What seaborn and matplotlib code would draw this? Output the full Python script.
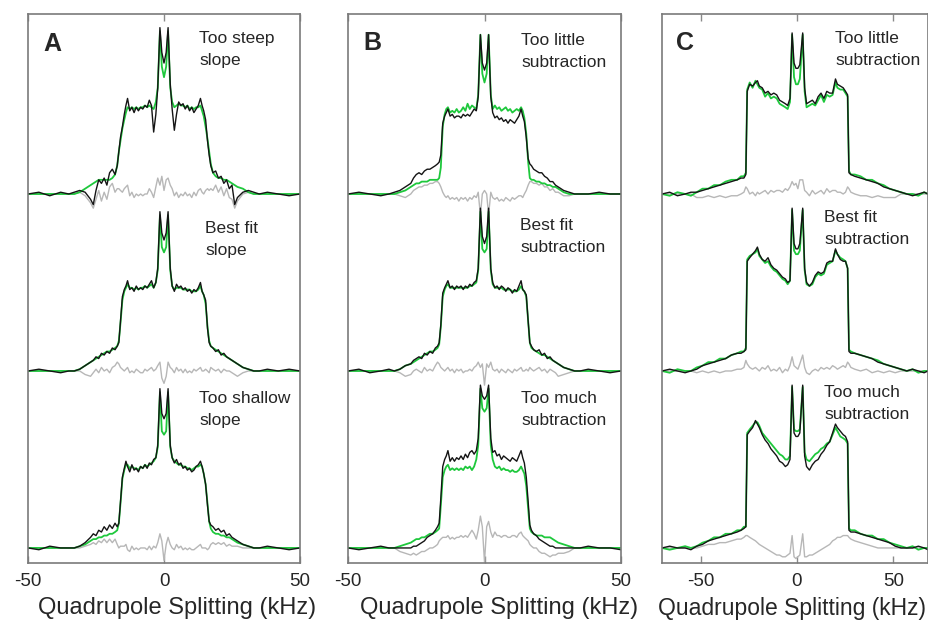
import numpy as np
import matplotlib
matplotlib.use('Agg')
import matplotlib.pyplot as plt
import seaborn as sns

# kHz grids (panels A and B share one, C is wider)
x_ab = [-50, -46, -42, -38, -35,
        -33, -31, -29, -27, -26, -25, -24, -23, -22, -21, -20, -19, -18, -17.2,
        -16.6, -16, -15.3, -14.6, -14, -13.4, -12.6, -11.8, -11, -10.2, -9.4, -8.6, -7.8, -7, -6.2, -5.4, -4.6, -3.8, -3,
        -2.3, -1.5, -0.8, 0, 0.8, 1.5, 2.3,
        3, 3.8, 4.6, 5.4, 6.2, 7, 7.8, 8.6, 9.4, 10.2, 11, 11.8, 12.6, 13.4, 14, 14.6, 15.3, 16, 16.6,
        17.2, 18, 19, 20, 21, 22, 23, 24, 25, 26, 27, 29, 31, 33,
        35, 38, 42, 46, 50]

x_c = [-70, -66, -62, -58, -55,
       -52, -49, -46, -43, -40, -37, -34, -31, -29, -27.5, -26.5,
       -25.8, -24.5, -23, -21.5, -20.5, -19.5, -18, -16.5, -15, -13.5, -12, -10.5, -9, -7.5, -6, -4.8, -3.6,
       -2.5, -1.5, -0.5, 0.5, 1.5, 3, 4,
       5, 6.5, 8, 9.5, 11, 12.5, 14, 15.5, 17, 18.5, 20, 21, 22.5, 24, 25.2, 26.3,
       27, 28, 30, 33, 36, 39, 42, 45, 48, 51, 54,
       57, 60, 63, 66, 68]

# ---- panel A: slope ----
a_steep_black = [0, 1, -1, 1, 0,
                 1, 2, 1, -3, -6, 2, 8, 6, 9, 5, 12, 14, 11, 16,
                 24, 32, 38, 45, 50, 54, 47, 49, 46, 49, 47, 49, 48, 50, 49, 53, 50, 35, 45,
                 60, 94, 80, 74, 80, 94, 62,
                 48, 36, 45, 52, 50, 51, 48, 50, 47, 49, 46, 48, 50, 54, 50, 47, 42, 30, 22,
                 16, 12, 13, 9, 10, 6, 8, 3, 5, -6, -2, 1, 2, 1,
                 0, 1, 0, -1, 0]
a_steep_green = [0, 0, 0, 0, 0,
                 0, 1, 3, 5, 6, 7, 8, 8, 8, 8, 8, 9, 11, 16,
                 24, 30, 37, 42, 46, 49, 48, 49, 48, 49, 48, 49, 49, 50, 49, 50, 49, 48, 52,
                 60, 92, 72, 66, 72, 92, 60,
                 52, 49, 50, 51, 50, 50, 49, 50, 48, 49, 48, 49, 49, 50, 47, 44, 38, 31, 24,
                 17, 12, 10, 9, 9, 8, 8, 7, 6, 5, 4, 3, 1, 0,
                 0, 0, 0, 0, 0]
a_steep_gray = [0, 0, 0, 0, 0,
                0, 1, -1, -5, -8, -3, 2, -4, 1, -3, 4, 6, 1, 3,
                3, 2, 1, 3, 4, 5, -1, 1, -2, 0, -1, 0, -1, 0, 0, 3, 1, -2, 4,
                9, 5, 10, 2, 8, 9, 5,
                3, -1, 1, -2, 0, -1, 1, -1, 0, -2, 1, -1, 2, 3, 1, 0, 2, 3, 2,
                3, 2, 5, 1, 4, -1, 3, -2, -3, -8, -4, 0, 1, 0,
                0, 0, 0, 0, 0]

a_best_black = [0, 1, 0, -1, 0,
                0, 1, 3, 5, 6, 8, 7, 10, 9, 11, 10, 13, 12, 14,
                16, 28, 42, 46, 48, 51, 46, 47, 45, 48, 46, 47, 46, 48, 47, 49, 51, 47, 50,
                58, 90, 78, 74, 78, 90, 58,
                48, 45, 49, 47, 48, 46, 47, 45, 46, 44, 46, 45, 47, 50, 45, 43, 40, 24, 16,
                14, 13, 11, 12, 9, 10, 8, 7, 6, 5, 4, 2, 1, 0,
                0, 1, 0, 1, 0]
a_best_green = [0, 0, 0, 0, 0,
                0, 1, 3, 5, 6, 7, 8, 9, 10, 11, 11, 12, 13, 14,
                17, 27, 40, 45, 47, 49, 47, 47, 46, 47, 46, 47, 47, 48, 47, 48, 49, 47, 50,
                57, 88, 70, 67, 70, 88, 57,
                48, 46, 47, 47, 47, 46, 46, 46, 46, 45, 45, 45, 46, 48, 45, 43, 38, 25, 17,
                14, 13, 12, 11, 10, 9, 8, 7, 6, 5, 4, 2, 1, 0,
                0, 0, 0, 0, 0]
a_best_gray = [0, 0, 0, 0, 0,
               0, 0, -2, -3, -1, 1, -1, 2, 0, 1, -1, 2, 3, 5,
               4, 2, 1, 0, 1, 2, -1, 0, -1, 1, 0, -1, -1, 1, 0, 1, 2, 0, 1,
               3, 5, -4, -7, -3, 5, 2,
               1, -1, 2, 0, 1, -1, 1, -1, 0, -1, 1, 0, 1, 2, 0, 0, 1, 0, -1,
               2, 1, 0, 1, -1, 1, 0, 0, -1, -2, -3, -1, 0, 0,
               0, 0, 0, 0, 0]

a_shallow_black = [0, -1, 1, 0, 0,
                   0, 1, 3, 6, 8, 7, 10, 9, 12, 10, 13, 11, 14, 12,
                   14, 26, 40, 45, 49, 46, 43, 47, 44, 45, 43, 46, 45, 47, 45, 48, 47, 50, 51,
                   58, 90, 76, 73, 76, 90, 58,
                   51, 48, 50, 47, 48, 45, 46, 44, 45, 43, 44, 46, 47, 49, 46, 42, 36, 24, 15,
                   13, 12, 10, 11, 9, 10, 7, 8, 6, 5, 4, 2, 1, 0,
                   0, 1, 0, -1, 0]
a_shallow_green = [0, 0, 0, 0, 0,
                   0, 1, 2, 4, 5, 5, 6, 6, 7, 7, 8, 8, 9, 10,
                   14, 25, 39, 44, 47, 47, 45, 46, 45, 45, 44, 46, 45, 47, 46, 47, 48, 49, 51,
                   57, 88, 66, 64, 66, 88, 57,
                   51, 49, 48, 47, 47, 46, 46, 45, 45, 44, 45, 46, 46, 47, 46, 42, 36, 25, 15,
                   11, 9, 8, 8, 7, 7, 6, 6, 5, 4, 3, 2, 1, 0,
                   0, 0, 0, 0, 0]
a_shallow_gray = [0, 0, 0, 0, 0,
                  0, 0, 1, 2, 3, 2, 4, 3, 5, 3, 5, 3, 5, 2,
                  0, 1, 1, 1, 2, -1, -2, 1, -1, 0, -1, 0, 0, 0, -1, 1, -1, 1, 0,
                  3, 8, 4, -7, 2, 6, 2,
                  0, -1, 2, 0, 1, -1, 0, -1, 0, -1, -1, 0, 1, 2, 0, 0, 0, -1, 0,
                  2, 3, 2, 3, 2, 3, 1, 2, 1, 1, 1, 0, 0, 0,
                  0, 0, 0, 0, 0]

# ---- panel B: subtraction ----
b_little_black = [0, 1, 0, -1, 0,
                  1, 2, 4, 6, 9, 11, 12, 11, 13, 14, 14, 15, 16, 17,
                  18, 22, 40, 44, 46, 48, 44, 45, 43, 44, 44, 43, 45, 44, 45, 44, 46, 48, 47,
                  55, 90, 74, 70, 74, 90, 55,
                  46, 43, 44, 42, 43, 41, 42, 40, 42, 41, 40, 42, 44, 48, 44, 41, 32, 20, 17,
                  16, 14, 13, 12, 12, 10, 9, 7, 7, 5, 4, 2, 1, 0,
                  0, 0, 1, 0, 0]
b_little_green = [0, 0, 0, 0, 0,
                  0, 1, 2, 4, 5, 6, 6, 7, 7, 7, 8, 8, 8, 8,
                  9, 15, 38, 45, 48, 49, 46, 47, 46, 48, 46, 47, 49, 47, 51, 48, 50, 49, 48,
                  56, 90, 68, 63, 68, 90, 56,
                  48, 50, 48, 49, 47, 48, 49, 47, 48, 46, 47, 48, 47, 49, 47, 43, 34, 18, 9,
                  8, 8, 7, 7, 6, 6, 5, 5, 4, 4, 3, 1, 0, 0,
                  0, 0, 0, 0, 0]
b_little_gray = [0, 0, 0, 0, 0,
                 0, -1, -2, 0, 2, 3, 4, 4, 5, 5, 6, 6, 7, 7,
                 6, 4, 1, -1, -2, -1, -3, -2, -3, -2, -4, -2, -3, -2, -4, -2, -3, -1, -2,
                 1, -12, 0, 2, 0, -12, 1,
                 -2, -3, -2, -4, -3, -4, -2, -3, -4, -2, -3, -2, -1, -1, -2, 0, 2, 5, 7,
                 7, 6, 6, 5, 6, 4, 4, 2, 3, 1, 1, -1, -1, 0,
                 0, 0, 0, 0, 0]

b_best_black = [0, 1, -1, 0, 1,
                0, 1, 3, 4, 6, 7, 8, 7, 10, 9, 11, 10, 13, 14,
                16, 26, 44, 47, 49, 51, 47, 48, 46, 48, 47, 48, 46, 48, 47, 49, 48, 50, 51,
                58, 92, 76, 72, 76, 92, 58,
                50, 47, 48, 46, 48, 47, 45, 47, 46, 44, 46, 45, 48, 51, 46, 45, 43, 28, 16,
                14, 12, 11, 12, 9, 10, 7, 8, 6, 5, 4, 2, 1, 0,
                0, 1, 0, -1, 0]
b_best_green = [0, 0, 0, 0, 0,
                0, 1, 3, 4, 5, 6, 7, 8, 9, 10, 11, 11, 12, 13,
                15, 25, 42, 46, 48, 49, 47, 47, 47, 47, 47, 47, 47, 47, 47, 48, 48, 49, 50,
                57, 90, 69, 67, 69, 90, 57,
                49, 47, 47, 47, 47, 46, 46, 46, 46, 45, 45, 45, 46, 48, 46, 45, 42, 28, 16,
                13, 12, 11, 10, 9, 9, 8, 7, 6, 5, 4, 2, 1, 0,
                0, 0, 0, 0, 0]
b_best_gray = [0, 0, 0, 0, 0,
               0, -1, -3, -2, 0, 1, 0, -1, 2, 0, 1, 0, 3, 5,
               4, 2, 1, 0, 1, 2, 0, 1, -1, 1, 0, 1, -1, 0, 0, 1, 0, 2, 3,
               5, 2, 4, -8, 4, 2, 5,
               1, 0, 1, -1, 1, 0, -1, 1, 0, -1, 1, 0, 1, 2, 0, 0, 1, 0, 2,
               1, 0, 1, 2, 0, 1, -1, 1, 0, -1, -3, -2, -1, 0,
               0, 0, 0, 0, 0]

b_much_black = [0, -1, 0, 1, 0,
                0, 0, 0, 0, 1, 1, 2, 3, 4, 6, 7, 8, 10, 12,
                14, 28, 46, 50, 52, 55, 49, 51, 49, 51, 50, 52, 50, 53, 51, 54, 55, 53, 55,
                62, 92, 86, 84, 86, 92, 62,
                54, 55, 52, 53, 50, 52, 51, 50, 49, 51, 50, 49, 52, 55, 51, 48, 40, 26, 13,
                10, 8, 7, 5, 4, 3, 2, 1, 1, 0, 0, 0, 0, 0,
                0, 1, 0, 0, -1]
b_much_green = [0, 0, 0, 0, 0,
                0, 1, 2, 3, 4, 5, 5, 6, 6, 7, 8, 8, 9, 10,
                11, 24, 40, 44, 46, 47, 44, 45, 44, 45, 44, 45, 44, 46, 45, 46, 44, 46, 50,
                58, 90, 79, 77, 79, 90, 58,
                50, 46, 45, 46, 44, 45, 44, 44, 43, 44, 43, 43, 44, 46, 44, 42, 35, 22, 11,
                9, 8, 7, 7, 7, 6, 6, 6, 5, 4, 3, 2, 1, 0,
                0, 0, 0, 0, 0]
b_much_gray = [0, 0, 0, 0, 0,
               0, -2, -3, -4, -3, -4, -3, -2, -2, -1, 0, 0, 1, 2,
               4, 5, 6, 6, 6, 7, 5, 6, 5, 6, 6, 7, 6, 7, 6, 8, 10, 8, 5,
               10, 18, 12, -8, 12, 15, 9,
               6, 9, 7, 7, 6, 7, 7, 6, 6, 7, 7, 6, 8, 9, 7, 6, 5, 4, 2,
               1, 0, 0, -2, -3, -3, -4, -5, -4, -4, -3, -3, -2, 0,
               0, 0, 0, 0, 0]

# ---- panel C: subtraction, wider spectrum ----
c_little_black = [0, 1, -1, 0, 1,
                  1, 2, 3, 4, 5, 6, 7, 8, 9, 9, 11,
                  58, 62, 61, 63, 64, 61, 60, 57, 58, 56, 57, 56, 53, 52, 51, 50, 54,
                  91, 74, 71, 71, 73, 91, 60,
                  51, 52, 53, 51, 55, 57, 54, 58, 57, 57, 65, 62, 61, 60, 58, 56,
                  12, 11, 10, 9, 8, 7, 6, 4, 3, 2, 1,
                  0, -1, 0, 1, 0]
c_little_green = [0, -1, 1, 0, -1,
                  1, 3, 3, 5, 5, 7, 8, 8, 10, 10, 12,
                  59, 63, 60, 64, 62, 60, 59, 55, 57, 54, 55, 54, 51, 50, 49, 48, 52,
                  90, 66, 62, 62, 65, 90, 58,
                  49, 50, 51, 50, 53, 56, 52, 56, 55, 56, 63, 60, 59, 59, 57, 55,
                  13, 11, 11, 10, 8, 8, 6, 5, 3, 2, 1,
                  0, 0, -1, 1, 0]
c_little_gray = [0, 0, 0, 0, 0,
                 -2, -2, -1, -2, -1, -2, -1, -1, 0, 1, 4,
                 3, 0, 1, -1, 1, 0, 1, 2, 0, 2, 1, 2, 2, 1, 3, 2, 4,
                 7, 5, 6, 3, 8, 8, 2,
                 1, -1, 2, 0, 1, 2, 0, 3, 1, 2, 2, 1, 1, 0, 1, 4,
                 3, 1, 0, -1, -1, -2, -1, -2, -2, -2, 0,
                 0, 0, 0, 0, 0]

c_best_black = [0, 1, 0, -1, 0,
                1, 3, 4, 5, 6, 7, 9, 10, 10, 11, 12,
                62, 64, 66, 68, 70, 66, 63, 62, 64, 60, 58, 57, 55, 53, 52, 50, 51,
                92, 72, 69, 69, 72, 92, 58,
                50, 48, 50, 54, 56, 55, 56, 61, 62, 62, 69, 66, 63, 62, 62, 58,
                11, 10, 10, 9, 8, 7, 5, 4, 3, 2, 1,
                0, 1, 0, -1, 0]
c_best_green = [0, -1, 1, 0, 0,
                2, 3, 5, 5, 7, 7, 9, 10, 11, 11, 13,
                63, 65, 66, 67, 69, 65, 63, 61, 62, 59, 57, 56, 54, 52, 51, 49, 51,
                91, 68, 66, 66, 68, 91, 57,
                49, 48, 49, 53, 55, 54, 55, 60, 61, 62, 68, 66, 64, 63, 62, 58,
                12, 11, 10, 9, 8, 7, 6, 4, 3, 2, 1,
                0, 1, -1, 0, 0]
c_best_gray = [0, 0, 0, 0, 0,
               -1, 0, -1, 0, -1, 0, 0, 1, 1, 2, 6,
               4, 2, 1, 2, 1, 0, 2, 1, 3, 0, 1, 0, 2, -1, 1, 0, 3,
               8, 3, 2, 1, 4, 9, 2,
               -1, -2, 0, 1, 0, 2, 1, 2, 1, 3, 2, 1, 2, 3, 2, 5,
               4, 2, 1, 0, 1, -1, 0, -1, 0, -1, 0,
               0, 0, 0, 0, 0]

c_much_black = [0, 1, 0, 0, -1,
                1, 2, 4, 5, 6, 7, 8, 9, 10, 11, 12,
                64, 66, 68, 72, 70, 68, 64, 61, 59, 56, 54, 52, 49, 48, 46, 47, 50,
                92, 65, 63, 63, 65, 92, 52,
                46, 44, 47, 49, 50, 53, 55, 58, 60, 65, 70, 68, 66, 64, 63, 60,
                10, 9, 9, 8, 7, 6, 5, 4, 3, 1, 0,
                0, 0, 1, 0, -1]
c_much_green = [0, -1, 0, 1, 0,
                1, 3, 4, 6, 6, 8, 8, 10, 10, 12, 12,
                65, 67, 69, 71, 71, 69, 65, 63, 61, 59, 57, 55, 53, 52, 50, 50, 52,
                91, 67, 66, 66, 67, 91, 54,
                50, 49, 51, 53, 54, 56, 57, 59, 60, 64, 68, 66, 63, 62, 61, 59,
                11, 10, 10, 8, 7, 7, 5, 5, 3, 2, 1,
                0, 1, -1, 0, 0]
c_much_gray = [0, 0, 0, 0, 0,
               0, 1, 2, 2, 3, 3, 4, 5, 5, 6, 7,
               7, 6, 5, 4, 3, 2, 1, 0, -1, -2, -3, -4, -4, -5, -5, -4, -3,
               7, -5, -6, -5, -4, 8, -5,
               -5, -4, -4, -3, -2, -1, 0, 1, 2, 4, 5, 6, 6, 7, 7, 7,
               6, 5, 4, 3, 2, 1, 0, 0, 0, 0, 0,
               0, 0, 0, 0, 0]

x_ticks = [-50, 0, 50]

sns.set_style('white')
plt.rcParams['font.family'] = ['Liberation Sans', 'DejaVu Sans']
plt.rcParams['axes.unicode_minus'] = False

W, H = 929, 622
fig = plt.figure(figsize=(W / 100, H / 100), dpi=100)

BLACK = '#141414'
GREEN = '#1ec83c'
GRAY = '#b7b7b7'
offsets = [200, 100, 0]

# letter, grid, (left px, width px), xlim, letter pos, spectra, notes, xlabel centre (axes frac), xlabel size
panels = [
    ('A', x_ab, (28, 272), (-50, 50), (43, 51),
     [(a_steep_black, a_steep_green, a_steep_gray),
      (a_best_black, a_best_green, a_best_gray),
      (a_shallow_black, a_shallow_green, a_shallow_gray)],
     [('Too steep', 'slope', 199, 43), ('Best fit', 'slope', 205, 233),
      ('Too shallow', 'slope', 199, 403)], 0.548, 17),
    ('B', x_ab, (348, 273), (-50, 50), (363, 50),
     [(b_little_black, b_little_green, b_little_gray),
      (b_best_black, b_best_green, b_best_gray),
      (b_much_black, b_much_green, b_much_gray)],
     [('Too little', 'subtraction', 521, 45), ('Best fit', 'subtraction', 520, 230),
      ('Too much', 'subtraction', 521, 403)], 0.553, 17),
    ('C', x_c, (662, 266), (-70, 68), (676, 50),
     [(c_little_black, c_little_green, c_little_gray),
      (c_best_black, c_best_green, c_best_gray),
      (c_much_black, c_much_green, c_much_gray)],
     [('Too little', 'subtraction', 835, 43), ('Best fit', 'subtraction', 824, 222),
      ('Too much', 'subtraction', 824, 397)], 0.487, 16.5),
]

for letter, xs, (left, width), xlim, (lx, ly), spectra, notes, lab_x, lab_fs in panels:
    ax = fig.add_axes([left / W, 59 / H, width / W, 549 / H])
    for off, (bk, gr, gy) in zip(offsets, spectra):
        sns.lineplot(x=xs, y=np.array(gy) + off, ax=ax, color=GRAY, lw=1.0,
                     estimator=None, sort=False)
        sns.lineplot(x=xs, y=np.array(gr) + off, ax=ax, color=GREEN, lw=1.3,
                     estimator=None, sort=False)
        sns.lineplot(x=xs, y=np.array(bk) + off, ax=ax, color=BLACK, lw=1.0,
                     estimator=None, sort=False)
    ax.set_xlim(*xlim)
    ax.set_ylim(-8.5, 301.7)
    ax.set_xticks(x_ticks)
    ax.set_yticks([])
    ax.tick_params(axis='x', direction='in', top=True, bottom=True, length=5,
                   width=1, color='#8a8a8a', labelsize=13.5, pad=7)
    for s in ax.spines.values():
        s.set_color('#7a7a7a')
        s.set_linewidth(1.2)
    ax.set_xlabel('Quadrupole Splitting (kHz)', fontsize=lab_fs)
    ax.xaxis.set_label_coords(lab_x, -0.062)
    ax.xaxis.label.set_verticalalignment('top')
    ax.set_ylabel('')

    fig.text(lx / W, 1 - ly / H, letter, fontsize=18, fontweight='bold',
             ha='left', va='baseline')
    for line1, line2, tx, ty in notes:
        fig.text(tx / W, 1 - ty / H, line1, fontsize=12.5, ha='left', va='baseline')
        fig.text(tx / W, 1 - (ty + 22) / H, line2, fontsize=12.5, ha='left', va='baseline')

fig.savefig('out.png', dpi=100)
